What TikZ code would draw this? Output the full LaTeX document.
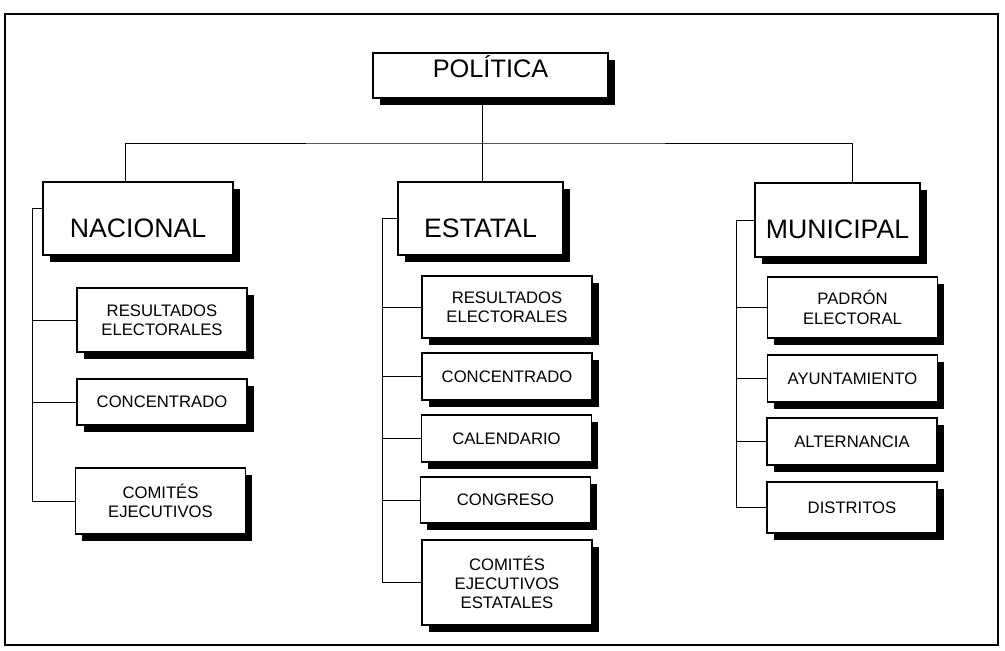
\documentclass[tikz,border=0pt]{standalone}
\usepackage{fontspec}
\setmainfont{Liberation Sans}
\usetikzlibrary{positioning, shadows}
\tikzset{
  boxshadow/.style={drop shadow={shadow xshift=5pt, shadow yshift=-5pt, fill=black, opacity=1}},
  topbox/.style={rectangle, draw=black, line width=0.9pt, fill=white, boxshadow, minimum width=176.25pt, minimum height=33.75pt, font=\fontsize{19}{23}\selectfont, text height=14pt, text depth=11.5pt},
  mainbox/.style={rectangle, draw=black, line width=0.9pt, fill=white, boxshadow, minimum height=54.75pt, font=\fontsize{20}{24}\selectfont, text height=28pt, text depth=0pt},
  subbox/.style={rectangle, draw=black, line width=0.9pt, fill=white, boxshadow, minimum width=127.5pt, text centered, align=center, font=\fontsize{12.5}{14.5}\selectfont},
  branch/.style={line width=0.7pt}
}
\begin{document}
\begin{tikzpicture}[x=0.75pt, y=-0.75pt]
\useasboundingbox (0,0) rectangle (1005,650);

% Frame
\coordinate (tl) at (5,14);
\coordinate (br) at (998,645);
\draw [line width=0.8pt] (tl) rectangle (br);
\draw [line width=2pt] (tl -| br) -- (br) -- (br -| tl);

% Top level
\node (politica) [topbox] at (490.5,75.5) {POLÍTICA};
\node (nacional) [mainbox, minimum width=142.5pt] at (138,218.5) {NACIONAL};
\node (estatal) [mainbox, minimum width=123.75pt] at (480.5,218.5) {ESTATAL};
\node (municipal) [mainbox, minimum width=123.75pt, minimum height=55.5pt] at (837.5,220) {MUNICIPAL};

% Nacional
\node (nres) [subbox, minimum height=48pt] at (162,320) {RESULTADOS\\ELECTORALES};
\node (nconc) [subbox, minimum height=34.5pt] at (162,402) {CONCENTRADO};
\node (ncom) [subbox, minimum height=49.5pt] at (160.5,501) {COMITÉS\\EJECUTIVOS};

% Estatal
\node (eres) [subbox, minimum height=46.5pt] at (507,307) {RESULTADOS\\ELECTORALES};
\node (econc) [subbox, minimum height=35.25pt] at (507,376.5) {CONCENTRADO};
\node (ecal) [subbox, minimum height=35.25pt] at (506.5,438.5) {CALENDARIO};
\node (econg) [subbox, minimum height=34.5pt] at (505.5,500) {CONGRESO};
\node (ecom) [subbox, minimum height=63.75pt] at (507,582.5) {COMITÉS\\EJECUTIVOS\\ESTATALES};

% Municipal
\node (mpad) [subbox, minimum height=45.75pt] at (852.5,307.5) {PADRÓN\\ELECTORAL};
\node (mayu) [subbox, minimum height=35.25pt] at (852.5,378.5) {AYUNTAMIENTO};
\node (malt) [subbox, minimum height=35.25pt] at (852,441.5) {ALTERNANCIA};
\node (mdis) [subbox, minimum height=38.25pt] at (852,507.5) {DISTRITOS};

% Top connectors
\coordinate (bar) at (482,143);
\draw [branch] (politica.south -| bar) -- (bar);
\draw [branch] ([xshift=-9.75pt]nacional.north) |- (bar) -| ([xshift=10.9pt]municipal.north);
\draw [branch] (bar) -- (estatal.north -| bar);

% Side spines
\foreach \c in {nres, nconc, ncom}
  \draw [branch] ([yshift=7.5pt]nacional.west) -- ++(-10,0) |- (\c.west);
\foreach \c in {eres, econc, ecal, econg, ecom}
  \draw [branch] (estatal.west) -- ++(-15,0) |- (\c.west);
\foreach \c in {mpad, mayu, malt, mdis}
  \draw [branch] (municipal.west) -- ++(-18,0) |- (\c.west);

\end{tikzpicture}
\end{document}
